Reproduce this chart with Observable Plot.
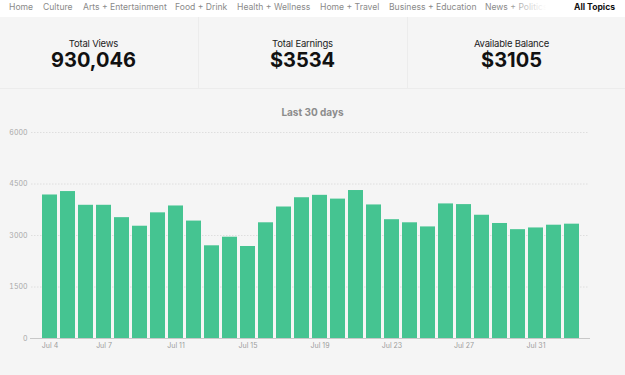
<!DOCTYPE html>
<html>
<head>
<meta charset="utf-8">
<script src="https://cdn.jsdelivr.net/npm/d3@7"></script>
<script src="https://cdn.jsdelivr.net/npm/@observablehq/plot@0.6"></script>
<style>
  html, body { margin: 0; padding: 0; width: 625px; height: 375px; overflow: hidden; background: #f5f5f5; font-family: Inter, "Noto Sans", sans-serif; }
  #nav { position: absolute; left: 0; top: 0; width: 625px; height: 17px; background: #fff; }
  #nav span { position: absolute; top: 2px; font-size: 8.6px; color: #8a8a8a; white-space: nowrap; line-height: 11px; }
  #nav .all { color: #111; font-weight: 700; }
  #fade { position: absolute; top: 0; left: 505px; width: 55px; height: 17px; background: linear-gradient(to right, rgba(255,255,255,0), #fff 75%); }
  #cards { position: absolute; top: 17px; left: 0; width: 625px; height: 71px; border-bottom: 1px solid #ececec; }
  .divider { position: absolute; top: 0; width: 1px; height: 71px; background: #ececec; }
  .card { position: absolute; top: 0; width: 209px; text-align: center; }
  .card .lab { position: absolute; top: 21px; width: 100%; font-size: 9.5px; color: #222; letter-spacing: -0.2px; }
  .card .val { position: absolute; top: 31px; width: 100%; font-size: 20px; font-weight: 700; color: #111; }
  #title { position: absolute; top: 106px; left: 0; width: 625px; text-align: center; font-size: 10px; font-weight: 700; color: #8c8c8c; }
  #chart { position: absolute; top: 120px; left: 0; }
</style>
</head>
<body>
<div id="nav"></div>
<div id="cards"></div>
<div id="title">Last 30 days</div>
<div id="chart"></div>
<script>
const navItems = ["Home", "Culture", "Arts + Entertainment", "Food + Drink", "Health + Wellness", "Home + Travel", "Business + Education", "News + Politics"];
const navX = [9, 43, 83, 175, 237, 320, 389, 485];
const statLabels = ["Total Views", "Total Earnings", "Available Balance"];
const statValues = ["930,046", "$3534", "$3105"];
const days = ["Jul 4","Jul 5","Jul 6","Jul 7","Jul 8","Jul 9","Jul 10","Jul 11","Jul 12","Jul 13","Jul 14","Jul 15","Jul 16","Jul 17","Jul 18","Jul 19","Jul 20","Jul 21","Jul 22","Jul 23","Jul 24","Jul 25","Jul 26","Jul 27","Jul 28","Jul 29","Jul 30","Jul 31","Aug 1","Aug 2"];
const views = [4180, 4280, 3880, 3880, 3520, 3270, 3660, 3860, 3420, 2700, 2950, 2680, 3370, 3830, 4100, 4170, 4060, 4310, 3890, 3460, 3370, 3250, 3920, 3900, 3590, 3350, 3170, 3220, 3300, 3330];
const xTickLabels = ["Jul 4", "Jul 7", "Jul 11", "Jul 15", "Jul 19", "Jul 23", "Jul 27", "Jul 31"];
const yTicks = [0, 1500, 3000, 4500, 6000];

// nav
const nav = document.getElementById("nav");
navItems.forEach((t, i) => {
  const s = document.createElement("span");
  s.textContent = t; s.style.left = navX[i] + "px"; nav.appendChild(s);
});
const fade = document.createElement("div"); fade.id = "fade"; nav.appendChild(fade);
const all = document.createElement("span"); all.className = "all"; all.textContent = "All Topics"; all.style.left = "574px"; nav.appendChild(all);

// cards
const cards = document.getElementById("cards");
const cardLeft = [-11, 198, 407];
statLabels.forEach((l, i) => {
  const c = document.createElement("div"); c.className = "card"; c.style.left = cardLeft[i] + "px";
  c.innerHTML = `<div class="lab">${l}</div><div class="val">${statValues[i]}</div>`;
  cards.appendChild(c);
});
[198, 407].forEach(x => { const d = document.createElement("div"); d.className = "divider"; d.style.left = x + "px"; cards.appendChild(d); });

const data = days.map((d, i) => ({day: d, value: views[i]}));

const chart = Plot.plot({
  width: 625,
  height: 240,
  marginLeft: 31,
  marginRight: 36,
  marginTop: 12,
  marginBottom: 22,
  style: {background: "transparent", fontFamily: "Inter, sans-serif", fontSize: "7px"},
  x: {type: "band", domain: days, paddingInner: 0.17, paddingOuter: 0, label: null},
  y: {domain: [0, 6000], label: null},
  marks: [
    Plot.gridY(yTicks.filter(d => d > 0), {stroke: "#dedede", strokeOpacity: 1, strokeDasharray: "1.5,1.5"}),
    Plot.barY(data, {x: "day", y: "value", fill: "#45c491"}),
    Plot.ruleY([0], {stroke: "#c8c8c8", strokeWidth: 1.2, insetLeft: -1, insetRight: -1}),
    Plot.axisY(yTicks, {tickSize: 0, tickPadding: 4, fill: "#a8a8a8", fontSize: 7, tickFormat: d => String(d)}),
    Plot.axisX(xTickLabels, {tickSize: 0, tickPadding: 5, fill: "#9c9c9c", fontSize: 7})
  ]
});
document.getElementById("chart").appendChild(chart);
</script>
</body>
</html>
